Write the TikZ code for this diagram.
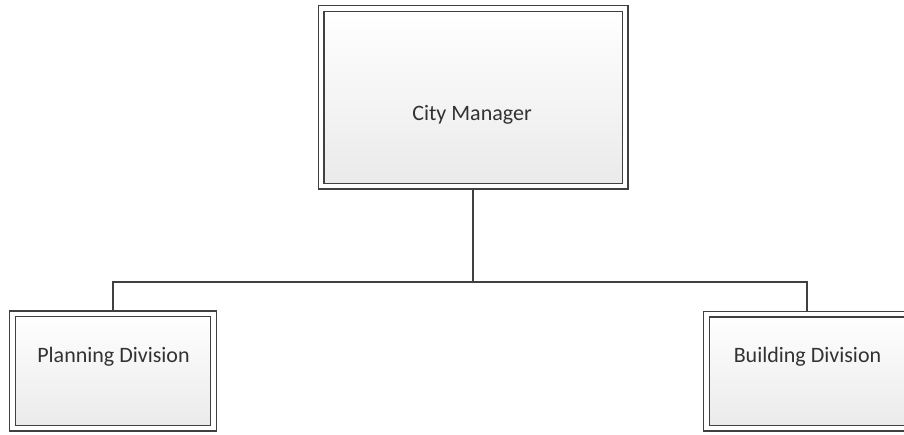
\documentclass[tikz,border=0pt]{standalone}
\usepackage{fontspec}
\setmainfont{Carlito}
\usetikzlibrary{backgrounds}
\definecolor{edge}{RGB}{64,64,64}
\definecolor{txt}{RGB}{50,50,50}
\definecolor{shadebot}{RGB}{234,234,234}
\tikzset{
  orgbox/.style={draw=edge, line width=1.3pt, double=white, double distance=4.4pt,
    top color=white, bottom color=shadebot, minimum width=#1, inner sep=0pt},
  boxtext/.style={text=txt, font=\fontsize{22}{26}\selectfont, inner sep=0pt},
  conn/.style={draw=edge, line width=2pt}
}
\begin{document}
\begin{tikzpicture}[x=1pt,y=-1pt]
\useasboundingbox (0,0) rectangle (904,434);
\node[orgbox=304pt, minimum height=177.5pt] (cm) at (473,97.25) {};
\node[orgbox=200.75pt, minimum height=114.3pt] (pd) at (113,371) {};
\node[orgbox=201pt, minimum height=114pt] (bd) at (807,371) {};
\node[boxtext] (cmt) at (472,115) {City Manager};
\node[boxtext] (pdt) at (113.5,357) {Planning Division};
\node[boxtext] (bdt) at (807.5,357) {Building Division};
\coordinate (bus) at (0,282);
\begin{scope}[on background layer]
\fill[white] (0,0) rectangle (904,434);
\draw[conn] (cm.south) -- (cm.south |- bus);
\draw[conn] (pd.north) -- (pd.north |- bus) -- (bd.north |- bus) -- (bd.north);
\end{scope}
\end{tikzpicture}
\end{document}
